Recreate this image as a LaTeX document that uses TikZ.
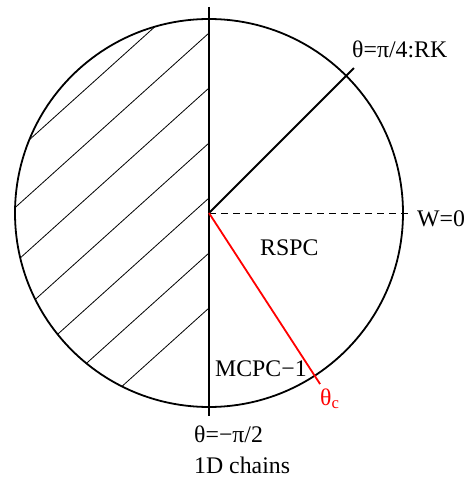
\documentclass[tikz,border=0pt]{standalone}
\usepackage{fontspec}
\setmainfont{Liberation Serif}
\tikzset{
	lbl/.style={anchor=base west, inner sep=0pt, font=\fontsize{23.8}{28}\selectfont},
	rim/.style={line width=1.8pt},
	hatch/.style={line width=0.8pt}
}
\begin{document}
\begin{tikzpicture}[x=1pt, y=1pt]
		\useasboundingbox (-209, -266) rectangle (260, 213);
		\coordinate (O) at (0, 0);
		\coordinate (top) at (0, 206);
		\coordinate (bot) at (0, -203);
		\coordinate (rk) at (45:205);
		\coordinate (w) at (201, 0);
		\coordinate (tc) at (-57:204);
		% hatched half
		\begin{scope}
			\clip (O) circle (194pt);
			\clip (-200, -200) rectangle (0, 200);
			\foreach \k in {-1, 0, ..., 6}{
				\draw[hatch] (0, 235 - 55*\k) -- ++(222:320);
			}
		\end{scope}
		\draw[rim] (O) circle (194pt);
		\draw[rim] (top) -- (bot);
		\draw[rim] (O) -- (rk);
		\draw[hatch, dash pattern=on 7pt off 5pt] (O) -- (w);
		\draw[rim, red] (O) -- (tc);
		\node[lbl] (rklbl) at (143, 155) {θ=π/4:RK};
		\node[lbl] (wlbl) at (208, -13) {W=0};
		\node[lbl] (rspc) at (51, -42) {RSPC};
		\node[lbl] (mcpc) at (6, -163) {MCPC−1};
		\node[lbl, red] (tclbl) at (111, -192) {θ$_{\mathrm{c}}$};
		\node[lbl] (half) at (-15, -229) {θ=−π/2};
		\node[lbl] (chains) at (-15, -260) {1D chains};
	\end{tikzpicture}
\end{document}
